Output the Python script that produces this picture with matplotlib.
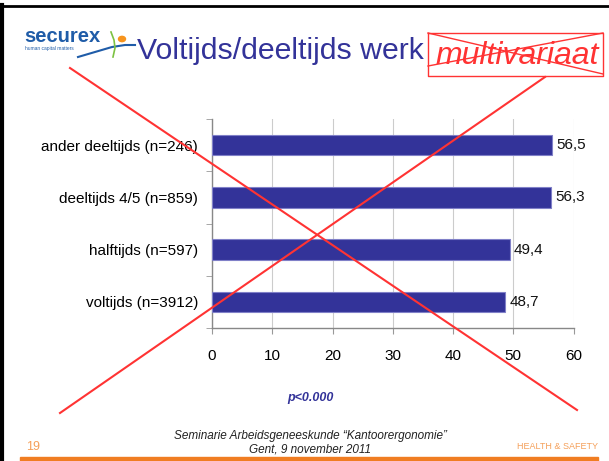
import numpy as np
import matplotlib
matplotlib.use("Agg")
import matplotlib.pyplot as plt
from matplotlib.lines import Line2D
from matplotlib.patches import Rectangle, Circle

# data
categories = ["voltijds (n=3912)", "halftijds (n=597)", "deeltijds 4/5 (n=859)", "ander deeltijds (n=246)"]
values = [48.7, 49.4, 56.3, 56.5]
xticks = [0, 10, 20, 30, 40, 50, 60]

W, H = 609, 461
navy = "#333399"
red = "#ff3333"
orange = "#f07d22"

plt.rcParams["font.family"] = ["Liberation Sans", "DejaVu Sans"]

fig = plt.figure(figsize=(W / 100, H / 100), dpi=100)


def px(x, y):
    # pixel position (top-left origin) -> figure fraction
    return x / W, 1 - y / H


# chart
ax = fig.add_axes([212 / W, 1 - 328 / H, (573.5 - 212) / W, (328 - 119) / H])
ypos = np.arange(len(categories))
ax.barh(ypos, values, height=0.39, color=navy, edgecolor="#8080c8", linewidth=0.8, zorder=3)
for y, v in zip(ypos, values):
    ax.text(v + 0.7, y, f"{v:.1f}".replace(".", ","), va="center", ha="left", fontsize=11, color="#111111")

ax.set_xlim(0, 60)
ax.set_ylim(-0.5, len(categories) - 0.5)
ax.set_xticks(xticks)
ax.set_xticklabels([str(t) for t in xticks], fontsize=11)
ax.set_yticks(ypos)
ax.set_yticklabels(categories, fontsize=11)
ax.set_yticks(np.arange(-0.5, len(categories), 1), minor=True)
ax.tick_params(axis="y", which="major", length=0, pad=10)
ax.tick_params(axis="y", which="minor", length=4, color="#999999")
ax.tick_params(axis="x", length=4, color="#999999", pad=11)
ax.grid(axis="x", color="#cccccc", linewidth=0.8, zorder=0)
for s in ["top", "right"]:
    ax.spines[s].set_visible(False)
for s in ["left", "bottom"]:
    ax.spines[s].set_color("#888888")
    ax.spines[s].set_linewidth(1)

# slide frame
fig.add_artist(Line2D([2 / W, 2 / W], [0, 1 - 5 / H], color="black", linewidth=3, transform=fig.transFigure))
fig.add_artist(Line2D([2 / W, 1], [1 - 6 / H, 1 - 6 / H], color="black", linewidth=2, transform=fig.transFigure))
fig.add_artist(Rectangle(px(20, 461), (598 - 20) / W, 4.5 / H, color=orange, transform=fig.transFigure))

# logo
fig.text(*px(24, 42), "securex", fontsize=14.5, fontweight="bold", color="#1f5ca8", ha="left", va="baseline")
fig.text(*px(25, 50), "human capital matters", fontsize=3.5, color="#1f5ca8", ha="left", va="baseline")
sw_x = np.array([78, 95, 112, 125, 135])
sw_y = np.array([57, 52, 47, 45, 45])
fig.add_artist(Line2D(sw_x / W, 1 - sw_y / H, color="#1f5ca8", linewidth=1.5, transform=fig.transFigure))
fig.add_artist(Line2D(np.array([111, 114, 115, 113]) / W, 1 - np.array([32, 40, 48, 57]) / H,
                      color="#7cc242", linewidth=1.2, transform=fig.transFigure))
fig.add_artist(Circle(px(122, 39), 3.5 / W, color="#f7941d", transform=fig.transFigure))

# title
fig.text(*px(137, 59), "Voltijds/deeltijds werk", fontsize=21.8, color=navy, ha="left", va="baseline")
fig.text(*px(435, 64), "multivariaat", fontsize=23, color=red, style="italic", ha="left", va="baseline")
bx0, by0, bx1, by1 = 428, 33, 603, 76
fig.add_artist(Line2D(np.array([bx0, bx1, bx1, bx0, bx0]) / W, 1 - np.array([by0, by0, by1, by1, by0]) / H,
                      color=red, linewidth=1, transform=fig.transFigure))
fig.add_artist(Line2D(np.array([bx0, bx1]) / W, 1 - np.array([by0, by1 - 2]) / H, color=red, linewidth=1, transform=fig.transFigure))
fig.add_artist(Line2D(np.array([bx0, bx1]) / W, 1 - np.array([by1 - 10, by0]) / H, color=red, linewidth=1, transform=fig.transFigure))

# big cross
fig.add_artist(Line2D(np.array([70, 577]) / W, 1 - np.array([68, 410]) / H, color=red, linewidth=1.5, transform=fig.transFigure, zorder=10))
fig.add_artist(Line2D(np.array([60, 545]) / W, 1 - np.array([413, 77]) / H, color=red, linewidth=1.5, transform=fig.transFigure, zorder=10))

# footer
fig.text(*px(310, 398), "p<0.000", fontsize=9, color=navy, fontweight="bold", style="italic", ha="center", va="center")
fig.text(*px(310, 436), "Seminarie Arbeidsgeneeskunde \u201cKantoorergonomie\u201d", fontsize=8.5, style="italic", color="#222222", ha="center", va="center")
fig.text(*px(310, 449), "Gent, 9 november 2011", fontsize=8.5, style="italic", color="#222222", ha="center", va="center")
fig.text(*px(26, 447), "19", fontsize=9, color="#f5a05a", ha="left", va="center")
fig.text(*px(598, 446), "HEALTH & SAFETY", fontsize=6.5, color="#f5a05a", ha="right", va="center")

fig.savefig("out.png", dpi=100)
